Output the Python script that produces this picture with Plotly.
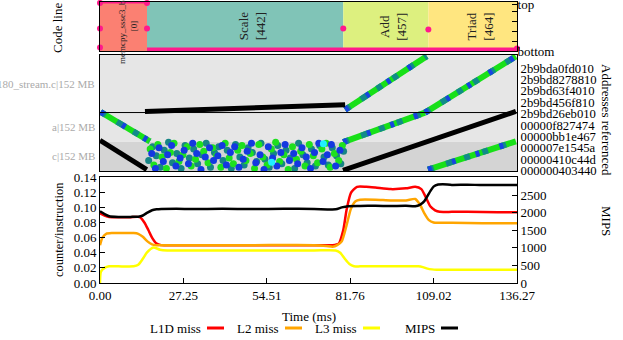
import plotly.graph_objects as go

FONT = "Liberation Serif"

# ---------------- data ----------------
t_max = 136.27
time_ticks = ["0.00", "27.25", "54.51", "81.76", "109.02", "136.27"]

# code regions (top panel)
region_names = ["memcpy_ssse3_back", "Scale", "Add", "Triad"]
region_lines = [0, 442, 457, 464]
region_start = [0.0, 15.36, 79.5, 107.3]
region_end = [15.36, 79.5, 107.3, 136.27]
region_colors = ["#fb8072", "#80c4b7", "#ddf07f", "#ffe680"]

# code line trace (0 = bottom, 1 = top)
codeline_top_t = [0.0, 15.36]
codeline_top_y = [1.0, 1.0]
codeline_bot_t = [15.36, 136.27]
codeline_bot_y = [0.035, 0.035]
codeline_dot_t = [0.0, 0.0, 0.0, 15.36, 15.36, 79.5, 107.3, 136.27]
codeline_dot_y = [0.98, 0.46, 0.07, 0.46, 0.98, 0.46, 0.44, 0.05]

# addresses (middle panel)
addr_labels = ["000000403440", "00000410c44d", "000007e1545a", "00000bb1e467",
               "00000f827474", "2b9bd26eb010", "2b9bd456f810", "2b9bd63f4010",
               "2b9bd8278810", "2b9bda0fd010"]
object_names = ["c|152 MB", "a|152 MB", "180_stream.c|152 MB"]
object_lo = [-0.03, 2.55, 5.1]
object_hi = [2.55, 5.1, 10.15]
object_colors = ["#d4d4d4", "#e6e6e6", "#e6e6e6"]

# load streams: [(t0, addr0), (t1, addr1)]
load_streams = [
    [(0.2, 5.15), (16.3, 2.57)],
    [(80.1, 5.35), (106.8, 10.05)],
    [(79.5, 2.5), (106.2, 5.09)],
    [(106.2, 5.09), (135.9, 10.03)],
    [(107.2, 0.09), (135.9, 2.57)],
]
# store streams
store_streams = [
    [(0.0, 2.66), (15.3, 0.09)],
    [(14.7, 5.2), (80.1, 5.79)],
    [(79.4, 0.03), (135.9, 5.2)],
]

# random-access cloud during Scale
cloud_green = [
    (16.4, 1.9), (17.6, 0.5), (18.9, 2.3), (20.3, 1.2), (21.7, 0.2),
    (23.0, 1.6), (24.2, 2.4), (25.8, 0.8), (27.1, 1.4), (28.5, 2.1),
    (29.8, 0.4), (31.2, 1.0), (32.6, 2.3), (33.9, 1.7), (35.3, 0.7),
    (36.8, 2.0), (38.1, 1.3), (39.5, 0.3), (40.9, 2.4), (42.2, 1.1),
    (43.6, 0.6), (45.0, 1.8), (46.4, 2.2), (47.7, 0.9), (49.1, 1.5),
    (50.5, 0.2), (51.9, 2.3), (53.2, 1.2), (54.6, 0.5), (56.0, 1.9),
    (57.4, 2.5), (58.7, 0.8), (60.1, 1.4), (61.5, 0.1), (62.9, 2.1),
    (64.2, 1.0), (65.6, 1.7), (67.0, 0.4), (68.4, 2.3), (69.7, 1.3),
    (71.1, 0.7), (72.5, 1.9), (73.9, 2.4), (75.2, 0.3), (76.6, 1.5),
    (78.0, 0.9), (79.2, 2.2),
]
cloud_teal = [
    (15.9, 0.9), (17.2, 2.1), (18.4, 1.3), (19.7, 0.3), (21.0, 1.8),
    (22.4, 2.5), (23.7, 0.7), (25.1, 1.5), (26.5, 0.2), (27.8, 2.2),
    (29.2, 1.1), (30.6, 1.9), (31.9, 0.6), (33.3, 1.4), (34.7, 2.4),
    (36.1, 0.3), (37.4, 1.6), (38.8, 2.1), (40.2, 0.9), (41.6, 1.8),
    (42.9, 0.2), (44.3, 2.3), (45.7, 1.2), (47.1, 0.5), (48.4, 2.0),
    (49.8, 1.6), (51.2, 0.8), (52.6, 2.4), (53.9, 1.0), (55.3, 0.3),
    (56.7, 1.5), (58.1, 2.2), (59.4, 0.6), (60.8, 1.8), (62.2, 1.1),
    (63.6, 0.2), (64.9, 2.4), (66.3, 1.4), (67.7, 0.7), (69.1, 1.9),
    (70.4, 0.4), (71.8, 2.2), (73.2, 1.2), (74.6, 0.5), (75.9, 2.0),
    (77.3, 1.3), (78.7, 0.6), (79.6, 1.7),
]
cloud_blue = [
    (16.9, 1.5), (18.1, 0.2), (19.3, 2.0), (20.7, 0.8), (22.1, 1.4),
    (23.4, 2.2), (24.8, 0.4), (26.2, 1.1), (27.5, 1.8), (28.9, 0.6),
    (30.3, 2.4), (31.6, 1.5), (33.0, 0.1), (34.4, 1.2), (35.8, 2.0),
    (37.1, 0.9), (38.5, 1.3), (39.9, 2.2), (41.3, 0.5), (42.6, 1.6),
    (44.0, 2.1), (45.4, 0.3), (46.8, 1.0), (48.1, 1.7), (49.5, 2.4),
    (50.9, 0.7), (52.3, 1.4), (53.6, 0.1), (55.0, 2.1), (56.4, 1.1),
    (57.8, 0.4), (59.1, 1.6), (60.5, 2.3), (61.9, 0.9), (63.3, 1.5),
    (64.6, 0.6), (66.0, 2.0), (67.4, 1.2), (68.8, 0.2), (70.1, 1.6),
    (71.5, 2.4), (72.9, 0.8), (74.3, 1.4), (75.6, 2.3), (77.0, 0.4),
    (78.4, 1.8),
]
cloud_cyan = [(56.1, 0.73), (73.0, 2.37)]

# counters (bottom panel)
l1d_t = [0, 1.5, 3, 6, 10, 13, 14.5, 15.8, 17, 18.5, 20, 23, 30, 40, 50, 60, 70, 76,
         78, 79.5, 80.6, 82, 84, 87, 90, 95, 100, 103, 105, 106.5, 108, 109.5, 111,
         115, 120, 130, 136.27]
l1d_v = [0.092, 0.089, 0.087, 0.087, 0.087, 0.087, 0.080, 0.070, 0.060, 0.052, 0.050,
         0.050, 0.050, 0.050, 0.050, 0.050, 0.050, 0.050, 0.052, 0.070, 0.097, 0.119,
         0.127, 0.127, 0.126, 0.124, 0.125, 0.127, 0.124, 0.113, 0.101, 0.096, 0.094,
         0.094, 0.094, 0.0935, 0.0935]
l2_t = [0, 0.8, 2, 4, 8, 11, 12.5, 14, 15.5, 17, 18.5, 20, 30, 50, 70, 74, 76, 77.5,
        79, 80.5, 82, 83.5, 85, 90, 95, 100, 103, 104.5, 106, 107.5, 109, 110.5, 115,
        125, 136.27]
l2_v = [0.050, 0.060, 0.065, 0.066, 0.066, 0.066, 0.065, 0.061, 0.055, 0.051, 0.050,
        0.050, 0.050, 0.050, 0.050, 0.049, 0.048, 0.050, 0.055, 0.075, 0.098, 0.108,
        0.110, 0.110, 0.109, 0.109, 0.111, 0.104, 0.092, 0.083, 0.080, 0.0795, 0.0795,
        0.079, 0.079]
l3_t = [0, 0.3, 1.5, 3, 6, 11, 12.5, 14, 15.3, 17.4, 19.6, 22, 30, 50, 70, 77, 78.5,
        80, 81.5, 83, 85, 90, 100, 104, 105.5, 107, 108.5, 110, 115, 125, 136.27]
l3_v = [0.0, 0.015, 0.020, 0.022, 0.022, 0.022, 0.024, 0.032, 0.040, 0.047, 0.044,
        0.043, 0.043, 0.043, 0.043, 0.043, 0.040, 0.032, 0.025, 0.022, 0.022, 0.022,
        0.022, 0.022, 0.021, 0.019, 0.018, 0.0176, 0.0176, 0.0176, 0.0176]
mips_t = [0, 1.5, 3, 6, 10, 12.5, 14, 15.5, 17, 18.5, 20, 25, 30, 40, 50, 60, 70, 77,
          79, 81, 85, 90, 95, 100, 103, 104.5, 106, 107, 108, 109, 110.5, 112, 115,
          120, 125, 130, 136.27]
mips_v = [2040, 1960, 1900, 1880, 1880, 1885, 1920, 2000, 2070, 2095, 2105, 2110,
          2105, 2110, 2105, 2110, 2105, 2095, 2150, 2185, 2190, 2195, 2190, 2195,
          2180, 2220, 2330, 2470, 2620, 2740, 2800, 2810, 2790, 2795, 2785, 2790, 2785]

counters = [
    ("L1D miss", l1d_t, l1d_v, "#ff0000", "y3"),
    ("L2 miss", l2_t, l2_v, "#ffa500", "y3"),
    ("L3 miss", l3_t, l3_v, "#ffff00", "y3"),
    ("MIPS", mips_t, mips_v, "#000000", "y4"),
]

# ---------------- figure ----------------
W, H = 623, 340
X0, X1 = 100, 517


def px_y(p):
    return 1 - p / H


fig = go.Figure()

# top panel: code regions
for t0, t1, c in zip(region_start, region_end, region_colors):
    fig.add_shape(type="rect", xref="x", yref="y", x0=t0, x1=t1, y0=0, y1=1,
                  fillcolor=c, line_width=0, layer="below")

pink = "#ff1a8c"
fig.add_trace(go.Scatter(x=codeline_top_t, y=codeline_top_y, mode="lines",
                         line=dict(color=pink, width=3), xaxis="x", yaxis="y",
                         cliponaxis=False))
fig.add_trace(go.Scatter(x=codeline_bot_t, y=codeline_bot_y, mode="lines",
                         line=dict(color=pink, width=3.5), xaxis="x", yaxis="y"))
fig.add_trace(go.Scatter(x=codeline_dot_t, y=codeline_dot_y, mode="markers",
                         marker=dict(color=pink, size=6), xaxis="x", yaxis="y",
                         cliponaxis=False))

# middle panel: object bands
for lo, hi, c in zip(object_lo, object_hi, object_colors):
    fig.add_shape(type="rect", xref="x2", yref="y2", x0=0, x1=t_max, y0=lo, y1=hi,
                  fillcolor=c, line_width=0, layer="below")
fig.add_shape(type="line", xref="x2", yref="y2", x0=0, x1=t_max,
              y0=object_lo[2], y1=object_lo[2], line=dict(color="black", width=1))

for (p0, p1) in load_streams:
    xs, ys = [p0[0], p1[0]], [p0[1], p1[1]]
    fig.add_trace(go.Scatter(x=xs, y=ys, mode="lines", xaxis="x2", yaxis="y2",
                             line=dict(color="#18e018", width=6)))
    fig.add_trace(go.Scatter(x=xs, y=ys, mode="lines", xaxis="x2", yaxis="y2",
                             line=dict(color="#128a8a", width=6, dash="6px,13px")))
    fig.add_trace(go.Scatter(x=xs, y=ys, mode="lines", xaxis="x2", yaxis="y2",
                             line=dict(color="#1844e0", width=6, dash="4px,21px")))

for (p0, p1) in store_streams:
    fig.add_trace(go.Scatter(x=[p0[0], p1[0]], y=[p0[1], p1[1]], mode="lines",
                             xaxis="x2", yaxis="y2",
                             line=dict(color="black", width=5)))

for pts, c in [(cloud_teal, "#168585"), (cloud_green, "#1ee01e"),
               (cloud_blue, "#1438e0"), (cloud_cyan, "#20f0ff")]:
    fig.add_trace(go.Scatter(x=[p[0] for p in pts], y=[p[1] for p in pts],
                             mode="markers", xaxis="x2", yaxis="y2",
                             marker=dict(color=c, size=7)))

# bottom panel: counters
for name, ts, vs, c, ya in counters:
    fig.add_trace(go.Scatter(x=ts, y=vs, mode="lines", name=name, xaxis="x3",
                             yaxis=ya, line=dict(color=c, width=2.5, shape="spline",
                                                 smoothing=0.6)))

# axes
xdom = [X0 / W, X1 / W]
tick_font = dict(family=FONT, size=13, color="black")
common_x = dict(domain=xdom, range=[0, t_max], showgrid=False, zeroline=False,
                showline=True, mirror=True, linecolor="black", linewidth=1,
                showticklabels=False, ticks="", automargin=False)

fig.update_layout(
    template="none",
    width=W, height=H, autosize=False,
    margin=dict(l=0, r=0, t=0, b=0, pad=0),
    paper_bgcolor="white", plot_bgcolor="white",
    showlegend=False,
    font=dict(family=FONT, size=13, color="black"),
    xaxis=dict(common_x, anchor="y"),
    xaxis2=dict(common_x, anchor="y2"),
    xaxis3=dict(common_x, anchor="y3", showticklabels=True, ticks="inside",
                ticklen=5, tickcolor="black",
                tickvals=[float(s) for s in time_ticks], ticktext=time_ticks,
                tickfont=tick_font),
    yaxis=dict(domain=[px_y(51), px_y(2)], range=[0, 1], anchor="x", side="right",
               showgrid=False, zeroline=False, showline=True, mirror=True,
               linecolor="black", ticks="inside", ticklen=5, tickcolor="black",
               tickwidth=1, tickvals=[0, 0.2, 0.4, 0.6, 0.8, 0.95],
               automargin=False, ticklabeloverflow="allow",
               ticktext=["bottom", "", "", "", "", "top"], tickfont=tick_font,
               ticklabelstandoff=-3),
    yaxis2=dict(domain=[px_y(171), px_y(55)], range=[-0.03, 10.15], anchor="x2",
                side="right", showgrid=False, zeroline=False, showline=True,
                mirror=True, linecolor="black", ticks="", automargin=False,
                tickvals=list(range(len(addr_labels))), ticktext=addr_labels,
                tickfont=dict(family=FONT, size=12.7, color="black")),
    yaxis3=dict(domain=[px_y(283), px_y(177)], range=[0, 0.14], anchor="x3",
                showgrid=False, zeroline=False, showline=True, mirror=True,
                linecolor="black", ticks="inside", ticklen=5, tickcolor="black",
                dtick=0.02, tickformat=".2f", tickfont=tick_font,
                automargin=False),
    yaxis4=dict(range=[0, 3014], overlaying="y3", anchor="x3", side="right",
                showgrid=False, zeroline=False, showline=True, linecolor="black",
                ticks="inside", ticklen=5, tickcolor="black", automargin=False,
                tickvals=[0, 500, 1000, 1500, 2000, 2500], tickfont=tick_font),
)

ann = []
# region labels
for name, ln, t0, t1 in zip(region_names, region_lines, region_start, region_end):
    small = name.startswith("memcpy")
    ann.append(dict(x=(t0 + t1) / 2, y=0.5, xref="x", yref="y", showarrow=False,
                    xanchor="center", yanchor="middle",
                    text=f"{name}<br>[{ln}]", textangle=-90,
                    xshift=5 if small else 7.5,
                    font=dict(family=FONT, size=9 if small else 13, color="#222")))
# object labels
for name, lo, hi in zip(object_names, object_lo, object_hi):
    ann.append(dict(x=97 / W, xref="paper", xanchor="right", yanchor="middle",
                    y=(lo + hi) / 2, yref="y2", showarrow=False, text=name,
                    font=dict(family=FONT, size=11, color="#aaaaaa")))
# axis titles
titles = [
    ("Code line", 57.5, 27.5, -90, 13),
    ("counter/instruction", 59, 230, -90, 12.5),
    ("Addresses referenced", 607, 120, 90, 13),
    ("MIPS", 607, 221, 90, 13),
    ("Time (ms)", 309, 316, 0, 13),
]
for text, x, y, ang, size in titles:
    ann.append(dict(x=x / W, y=px_y(y), xref="paper", yref="paper", text=text,
                    xanchor="center", yanchor="middle", textangle=ang,
                    showarrow=False, font=dict(family=FONT, size=size)))
# legend (text then sample)
for i, (name, _, _, c, _) in enumerate(counters):
    xr = 203 + 78 * i
    ann.append(dict(x=xr / W, y=px_y(328), xref="paper", yref="paper",
                    xanchor="right", yanchor="middle", text=name, showarrow=False,
                    font=dict(family=FONT, size=13)))
    fig.add_shape(type="line", xref="paper", yref="paper", x0=(xr + 4) / W,
                  x1=(xr + 21) / W, y0=px_y(328), y1=px_y(328),
                  line=dict(color=c, width=3))

fig.update_layout(annotations=ann)
fig.write_html("out.html", config={"displayModeBar": False},
               post_script="document.body.style.margin='0px';")
